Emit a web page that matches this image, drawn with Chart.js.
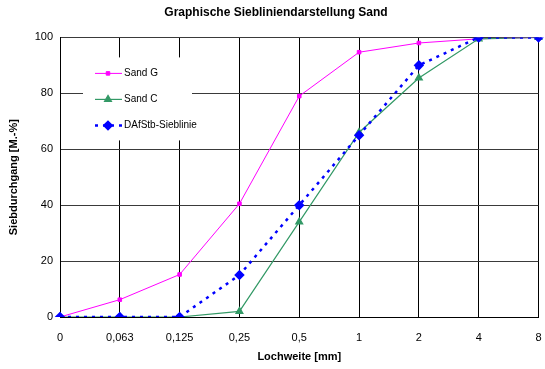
<!DOCTYPE html>
<html>
<head>
<meta charset="utf-8">
<script src="https://cdn.jsdelivr.net/npm/chart.js@4"></script>
<style>
  html, body { margin: 0; padding: 0; background: #fff; }
  #wrap { width: 545px; height: 369px; }
</style>
</head>
<body>
<div id="wrap"><canvas id="sieveChart" width="545" height="369"></canvas></div>
<script>
// Lochweite in mm (category axis, equally spaced like the original)
const sieveSizes = ['0', '0,063', '0,125', '0,25', '0,5', '1', '2', '4', '8'];
// Siebdurchgang in M.-%
const sandG = [0, 6.2, 15.2, 40.5, 79, 94.7, 98, 99.5, 100];
const sandC = [0, 0, 0, 2, 34, 66, 85.5, 99.5, 100];
const dafstbLine = [0, 0, 0, 15, 40, 65, 90, 100, 100];
const yTicks = [0, 20, 40, 60, 80, 100];

const FONT = "'Liberation Sans', Arial, sans-serif";

// legend with line samples drawn inside the plot area, like the Excel original
const boxLegend = {
    id: 'boxLegend',
    afterDatasetsDraw(chart) {
        const ctx = chart.ctx;
        const area = chart.chartArea;
        const x0 = area.left + 23, y0 = area.top + 20;
        ctx.save();
        ctx.fillStyle = '#fff';
        ctx.fillRect(x0, y0, 109, 83);
        chart.data.datasets.forEach((ds, i) => {
            const y = y0 + 16 + i * 26;
            ctx.strokeStyle = ds.borderColor;
            ctx.lineWidth = ds.borderWidth;
            ctx.setLineDash(ds.borderDash || []);
            ctx.beginPath();
            ctx.moveTo(x0 + 12, y);
            ctx.lineTo(x0 + 39, y);
            ctx.stroke();
            ctx.setLineDash([]);
            ctx.fillStyle = ds.pointBackgroundColor;
            ctx.strokeStyle = ds.pointBorderColor;
            Chart.helpers.drawPoint(ctx, {
                pointStyle: ds.pointStyle,
                radius: ds.pointRadius,
                borderWidth: 1,
                rotation: 0
            }, x0 + 25, y);
            ctx.fillStyle = '#000';
            ctx.font = '10px ' + FONT;
            ctx.textBaseline = 'middle';
            ctx.fillText(ds.label, x0 + 41, y);
        });
        ctx.restore();
    }
};

new Chart(document.getElementById('sieveChart'), {
    type: 'line',
    data: {
        labels: sieveSizes,
        datasets: [{
            label: 'Sand G',
            data: sandG,
            borderColor: '#FF00FF',
            borderWidth: 1,
            pointStyle: 'rect',
            pointRadius: 2.5,
            pointBackgroundColor: '#FF00FF',
            pointBorderColor: '#FF00FF',
            order: 2
        }, {
            label: 'Sand C',
            data: sandC,
            borderColor: '#339966',
            borderWidth: 1.2,
            pointStyle: 'triangle',
            pointRadius: 4,
            pointBackgroundColor: '#339966',
            pointBorderColor: '#339966',
            order: 1
        }, {
            label: 'DAfStb-Sieblinie',
            data: dafstbLine,
            borderColor: '#0000FF',
            borderWidth: 2.5,
            borderDash: [3, 5],
            pointStyle: 'rectRot',
            pointRadius: 3.5,
            pointBackgroundColor: '#0000FF',
            pointBorderColor: '#0000FF',
            order: 0
        }]
    },
    options: {
        responsive: false,
        animation: false,
        layout: { padding: { top: 0, right: -2, bottom: 2, left: 5 } },
        elements: { line: { tension: 0 } },
        plugins: {
            legend: { display: false },
            tooltip: { enabled: false },
            title: {
                display: true,
                text: 'Graphische Siebliniendarstellung Sand',
                color: '#000',
                font: { family: FONT, size: 12, weight: 'bold' },
                padding: { top: 5, bottom: 18 }
            }
        },
        scales: {
            x: {
                type: 'category',
                offset: false,
                border: { color: '#000', width: 1 },
                grid: { color: '#000', lineWidth: 1, drawTicks: false },
                ticks: {
                    color: '#000',
                    font: { family: FONT, size: 11 },
                    padding: 14,
                    maxRotation: 0
                },
                title: {
                    display: true,
                    text: 'Lochweite [mm]',
                    color: '#000',
                    font: { family: FONT, size: 11, weight: 'bold' },
                    padding: { top: 0, bottom: 3 }
                },
                afterFit: axis => {
                    axis.paddingRight = 0;
                    axis.paddingLeft = 0;
                    axis.height = 50;
                }
            },
            y: {
                min: 0,
                max: 100,
                afterBuildTicks: axis => { axis.ticks = yTicks.map(v => ({ value: v })); },
                border: { color: '#000', width: 1 },
                grid: { color: '#3a3a3a', lineWidth: 1, drawTicks: false },
                ticks: {
                    color: '#000',
                    font: { family: FONT, size: 11 },
                    padding: 7
                },
                title: {
                    display: true,
                    text: 'Siebdurchgang [M.-%]',
                    color: '#000',
                    font: { family: FONT, size: 11, weight: 'bold' },
                    padding: { top: 2, bottom: 6 }
                },
                afterFit: axis => { axis.width = 55; }
            }
        }
    },
    plugins: [boxLegend]
});
</script>
</body>
</html>
